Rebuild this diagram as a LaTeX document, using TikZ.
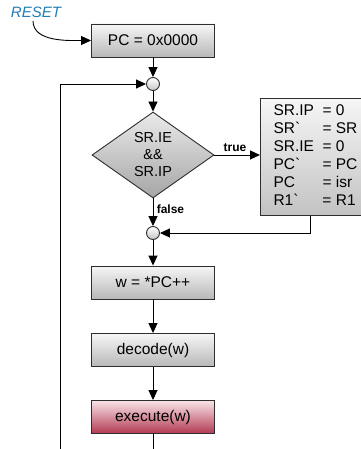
\documentclass[tikz,border=0pt]{standalone}
\usepackage{fontspec}
\setmainfont{Liberation Sans}
\usepackage{tikz}
\usetikzlibrary{shapes.geometric, arrows.meta, positioning, calc}
\definecolor{boxtop}{HTML}{F6F6F6}
\definecolor{boxbot}{HTML}{B8B8B8}
\definecolor{exetop}{HTML}{F9E4E8}
\definecolor{exebot}{HTML}{B23A52}
\definecolor{resetblue}{HTML}{1F7DB8}
\definecolor{edge}{HTML}{2E2E2E}

\begin{document}
\begin{tikzpicture}[x=1pt, y=-1pt,
  stepbox/.style={rectangle, draw=edge, line width=0.9pt, minimum width=123pt,
                  minimum height=33pt, top color=boxtop, bottom color=boxbot,
                  font=\fontsize{15.5}{18}\selectfont},
  exebox/.style={stepbox, top color=exetop, bottom color=exebot},
  merge/.style={circle, draw=edge, line width=0.9pt, minimum size=13pt, inner sep=0pt,
               top color=white, bottom color=boxbot!80},
  test/.style={diamond, draw=edge, line width=0.9pt, minimum width=122pt,
               minimum height=86pt, inner sep=0pt, align=center,
               top color=boxtop!80!boxbot, bottom color=boxbot!90!black,
               font=\fontsize{14.5}{17}\selectfont},
  regbox/.style={rectangle, draw=edge, line width=0.9pt, minimum width=110pt,
                 minimum height=117pt, inner sep=4pt, anchor=north west,
                 top color=boxtop, bottom color=boxbot!85,
                 font=\fontsize{15.5}{18}\selectfont},
  arr/.style={-{Triangle[length=10pt, width=9pt]}, line width=0.9pt},
  lbl/.style={font=\fontsize{12}{14}\selectfont\bfseries},
]
  \useasboundingbox (0,0) rectangle (360,449);

  %% reset and start
  \node[text=resetblue, font=\fontsize{15}{18}\selectfont\itshape] (rst) at (36,12) {RESET};
  \node[stepbox] (init) at (153,40.5) {PC = 0x0000};
  \node[merge] (j1) at (153,84) {};

  %% interrupt check
  \node[test] (irq) at (153,155) {SR.IE\\\&\&\\SR.IP};
  \node[regbox] (isr) at (260,98) {%
    \begin{tabular}{@{}p{49pt}@{}l@{}}
      SR.IP & = 0\\
      SR\textasciigrave & = SR\\
      SR.IE & = 0\\
      PC\textasciigrave & = PC\\
      PC & = isr\\
      R1\textasciigrave & = R1
    \end{tabular}};
  \node[merge] (j2) at (153,233) {};

  %% fetch / decode / execute
  \node[stepbox] (fetch) at (153,282.5) {w = *PC++};
  \node[stepbox] (dec) at (153,350) {decode(w)};
  \node[exebox] (exe) at (153,417) {execute(w)};
  \coordinate (bot) at (153,449);
  \coordinate (loop) at (60,449);

  \draw[arr] ([xshift=-3pt]rst.south) to[out=-90, in=180, looseness=0.9] (init.west);
  \draw[arr] (init) -- (j1);
  \draw[arr] (j1) -- (irq);
  \draw[arr] (irq) -- node[lbl, above, pos=0.45] {true} (isr.west |- irq);
  \draw[arr] (irq) -- node[lbl, right, pos=0.4] {false} (j2);
  \draw[arr] ([xshift=-5pt]isr.south) |- (j2);
  \draw[arr] (j2) -- (fetch);
  \draw[arr] (fetch) -- (dec);
  \draw[arr] (dec) -- (exe);
  \draw[line width=0.9pt] (exe) -- (bot);
  \draw[arr] (loop) |- (j1);

\end{tikzpicture}
\end{document}
